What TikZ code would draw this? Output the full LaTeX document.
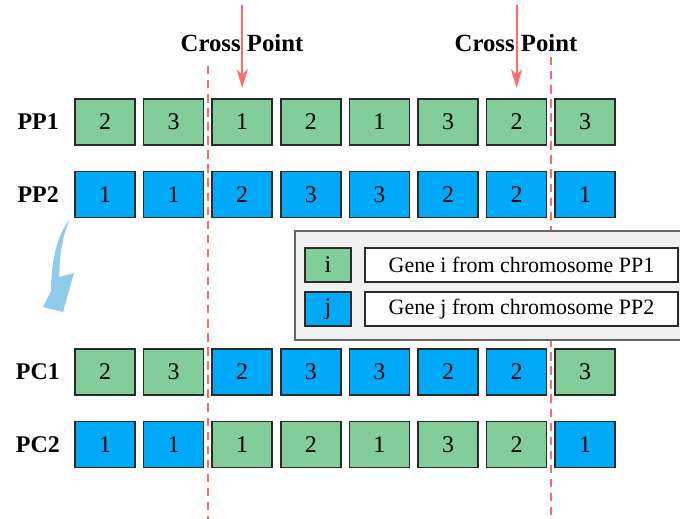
\documentclass[tikz,border=0pt]{standalone}
\usepackage{fontspec}
\setmainfont{Liberation Serif}
\usetikzlibrary{positioning, arrows.meta, calc}
\definecolor{genegreen}{HTML}{82CD99}
\definecolor{geneblue}{HTML}{00AAF8}
\definecolor{cutred}{HTML}{FF6B6B}
\definecolor{flowblue}{HTML}{8FCBEA}
\definecolor{legbg}{HTML}{F0F0F0}
\definecolor{boxline}{HTML}{2A2A2A}

\begin{document}
\begin{tikzpicture}[x=0.025cm, y=-0.025cm,
    gene/.style={draw=boxline, line width=1.1pt, minimum width=1.5cm, minimum height=1.15cm,
                 inner sep=0pt, font=\fontsize{17}{20}\selectfont},
    g1/.style={gene, fill=genegreen},
    g2/.style={gene, fill=geneblue},
    key/.style={minimum width=1.15cm, minimum height=0.85cm},
    note/.style={gene, fill=white, minimum width=7.83cm, minimum height=0.85cm,
                 font=\fontsize{15.6}{18}\selectfont},
    rowlab/.style={anchor=east, inner sep=0pt, font=\fontsize{17}{20}\selectfont\bfseries},
    cut/.style={cutred, line width=1.1pt, dash pattern=on 6pt off 4pt}]
  \useasboundingbox (0,0) rectangle (680,519);

  % parent chromosomes
  \node[rowlab] (lpp1) at (59,122) {PP1};
  \node[g1] (pa1) at (105,122)   {2};
  \node[g1] (pa2) at (173.6,122) {3};
  \node[g1] (pa3) at (242.2,122) {1};
  \node[g1] (pa4) at (310.8,122) {2};
  \node[g1] (pa5) at (379.4,122) {1};
  \node[g1] (pa6) at (448,122)   {3};
  \node[g1] (pa7) at (516.6,122) {2};
  \node[g1] (pa8) at (585.2,122) {3};

  \node[rowlab] (lpp2) at (59,194.5) {PP2};
  \node[g2] (pb1) at (105,194.5)   {1};
  \node[g2] (pb2) at (173.6,194.5) {1};
  \node[g2] (pb3) at (242.2,194.5) {2};
  \node[g2] (pb4) at (310.8,194.5) {3};
  \node[g2] (pb5) at (379.4,194.5) {3};
  \node[g2] (pb6) at (448,194.5)   {2};
  \node[g2] (pb7) at (516.6,194.5) {2};
  \node[g2] (pb8) at (585.2,194.5) {1};

  % children after two-point crossover
  \node[rowlab] (lpc1) at (60,372) {PC1};
  \node[g1] (ca1) at (105,372)   {2};
  \node[g1] (ca2) at (173.6,372) {3};
  \node[g2] (ca3) at (242.2,372) {2};
  \node[g2] (ca4) at (310.8,372) {3};
  \node[g2] (ca5) at (379.4,372) {3};
  \node[g2] (ca6) at (448,372)   {2};
  \node[g2] (ca7) at (516.6,372) {2};
  \node[g1] (ca8) at (585.2,372) {3};

  \node[rowlab] (lpc2) at (60,444.5) {PC2};
  \node[g2] (cb1) at (105,444.5)   {1};
  \node[g2] (cb2) at (173.6,444.5) {1};
  \node[g1] (cb3) at (242.2,444.5) {1};
  \node[g1] (cb4) at (310.8,444.5) {2};
  \node[g1] (cb5) at (379.4,444.5) {1};
  \node[g1] (cb6) at (448,444.5)   {3};
  \node[g1] (cb7) at (516.6,444.5) {2};
  \node[g2] (cb8) at (585.2,444.5) {1};

  % cut lines
  \coordinate (cut1t) at (208,66);  \coordinate (cut1b) at (208,519);
  \coordinate (cut2t) at (551,57);  \coordinate (cut2b) at (551,519);
  \draw[cut] (cut1t) -- (cut1b);
  \draw[cut] (cut2t) -- (cut2b);

  % cross points
  \node[font=\fontsize{17.6}{20}\selectfont\bfseries] (cp1) at (242,43) {Cross Point};
  \node[font=\fontsize{17.6}{20}\selectfont\bfseries] (cp2) at (516,43) {Cross Point};
  \coordinate (arr1t) at (242.2,5); \coordinate (arr1h) at (242.2,88);
  \coordinate (arr2t) at (516.6,5); \coordinate (arr2h) at (516.6,88);
  \draw[cutred, line width=1.4pt, -{Stealth[length=0.47cm, width=0.28cm, inset=0.14cm]}] (arr1t) -- (arr1h);
  \draw[cutred, line width=1.4pt, -{Stealth[length=0.47cm, width=0.28cm, inset=0.14cm]}] (arr2t) -- (arr2h);

  % curved arrow, parents -> children
  \fill[flowblue] (70,219) .. controls (63,234) and (59,255) .. (59.5,277)
    -- (74,273) -- (63,312) -- (43,307) -- (51,291)
    .. controls (51,265) and (56,236) .. (70,219) -- cycle;

  % legend
  \draw[draw=black!60, fill=legbg, line width=0.8pt] (295,231) rectangle (690,340);
  \node[g1, key] (ki) at (328,265) {i};
  \node[g2, key] (kj) at (328,309) {j};
  \node[note] (ti) at (521.5,265) {Gene i from chromosome PP1};
  \node[note] (tj) at (521.5,309) {Gene j from chromosome PP2};
\end{tikzpicture}
\end{document}
